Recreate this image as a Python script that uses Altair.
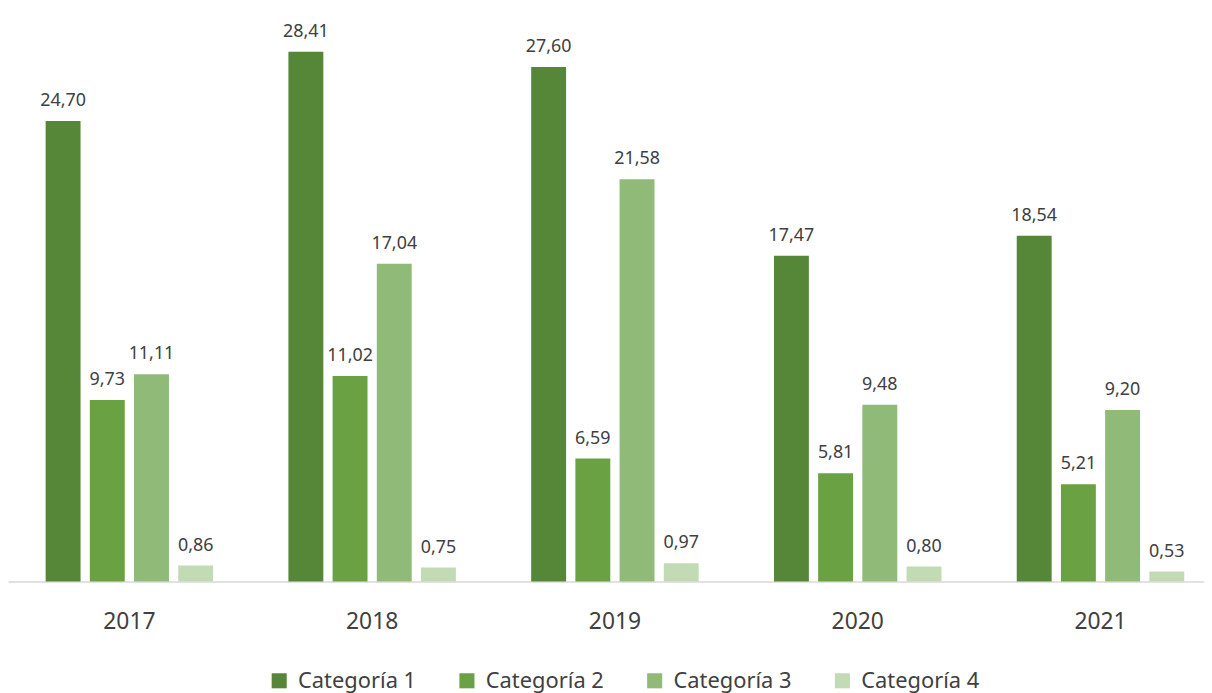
import altair as alt
import pandas as pd

years = ["2017", "2018", "2019", "2020", "2021"]
categories = ["Categoría 1", "Categoría 2", "Categoría 3", "Categoría 4"]
cat1 = [24.70, 28.41, 27.60, 17.47, 18.54]
cat2 = [9.73, 11.02, 6.59, 5.81, 5.21]
cat3 = [11.11, 17.04, 21.58, 9.48, 9.20]
cat4 = [0.86, 0.75, 0.97, 0.80, 0.53]
colors = ["#568638", "#6AA143", "#90BA78", "#C3DBB5"]

rows = []
for series, name in zip([cat1, cat2, cat3, cat4], categories):
    for y, v in zip(years, series):
        rows.append({"year": y, "cat": name, "value": v})
df = pd.DataFrame(rows)

FONT = "Noto Sans"

base = alt.Chart(df).encode(
    x=alt.X("year:N", sort=years, title=None,
            scale=alt.Scale(paddingInner=0.31, paddingOuter=0.155, range=[0, 1222]),
            axis=alt.Axis(labelAngle=0, labelFontSize=23, labelColor="#404040",
                          labelFont=FONT, ticks=False, domainColor="#d9d9d9",
                          domainWidth=1.5, labelPadding=29)),
    xOffset=alt.XOffset("cat:N", sort=categories,
                        scale=alt.Scale(paddingInner=0.21, paddingOuter=0)),
    y=alt.Y("value:Q", axis=None, scale=alt.Scale(domain=[0, 30], nice=False)),
)

bars = base.mark_bar().encode(
    color=alt.Color("cat:N", sort=categories,
                    scale=alt.Scale(domain=categories, range=colors),
                    legend=alt.Legend(title=None, orient="none", direction="horizontal",
                                      legendX=262, legendY=652,
                                      symbolType="square", symbolSize=230,
                                      labelFontSize=22, labelFont=FONT,
                                      labelColor="#404040", columnPadding=40,
                                      symbolStrokeWidth=0, labelOffset=8))
)

labels = base.transform_calculate(
    lbl="replace(format(datum.value, '.2f'), '.', ',')"
).mark_text(baseline="bottom", dy=-11, fontSize=18, font=FONT, color="#404040").encode(
    text="lbl:N"
)

chart = (bars + labels).properties(
    width=1204, height=563,
    padding={"top": 12, "left": 0, "right": 0, "bottom": 110},
    autosize=alt.AutoSizeParams(type="none"),
).configure_view(stroke=None)

chart.save("out.html", embed_options={"renderer": "svg", "actions": False})
